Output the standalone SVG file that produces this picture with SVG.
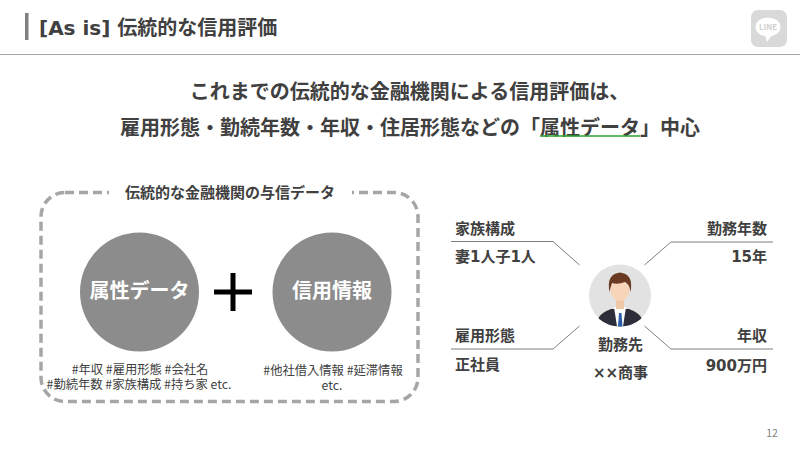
<svg xmlns="http://www.w3.org/2000/svg" width="800" height="450" viewBox="0 0 800 450">
<style>
text{font-family:"Noto Sans CJK JP","Noto Sans",sans-serif;fill:#404040}
.b{font-weight:700}
.lead{font-size:20px;font-weight:700}
.label{font-size:15px;font-weight:700;font-family:"DejaVu Sans","Noto Sans CJK JP",sans-serif}
.tag{font-size:12.300px;font-weight:400}
.circ{fill:#8c8c8c}
.ctext{font-size:20px;font-weight:700;fill:#fff;text-anchor:middle}
.conn{fill:none;stroke:#7f7f7f;stroke-width:1}
.e{text-anchor:end}
.c{text-anchor:middle}
</style>
<rect width="800" height="450" fill="#fff"/>
<g id="header">
<rect x="25" y="13" width="3.500" height="27" fill="#7f7f7f"/>
<text x="39" y="35" font-size="20" font-weight="700" style="font-family:'DejaVu Sans','Noto Sans CJK JP',sans-serif">[As is] 伝統的な信用評価</text>
<line x1="0" y1="54.500" x2="800" y2="54.500" stroke="#a6a6a6" stroke-width="1"/>
<g id="logo">
<rect x="751" y="10" width="36" height="37" rx="7" fill="#d9d9d9"/>
<ellipse cx="768" cy="27" rx="12.500" ry="9.500" fill="#fff"/>
<path d="M765 35 L772 35 L767 42 Z" fill="#fff"/>
<text x="768" y="30" class="c" font-size="8" font-weight="700" style="fill:#cfcfcf">LINE</text>
</g>
</g>
<g id="lead">
<text x="409.500" y="99" class="lead c">これまでの伝統的な金融機関による信用評価は、</text>
<text x="410" y="135" class="lead c">雇用形態・勤続年数・年収・住居形態などの「属性データ」中心</text>
<line x1="540" y1="136" x2="640" y2="136" stroke="#2aa52a" stroke-width="1.500"/>
</g>
<g id="data-box">
<rect x="41" y="192.500" width="377" height="209" rx="24" fill="none" stroke="#a6a6a6" stroke-width="3.500" stroke-dasharray="9 5"/>
<rect x="109" y="180" width="243" height="24" fill="#fff"/>
<text x="230" y="198" class="c b" font-size="15">伝統的な金融機関の与信データ</text>
</g>
<g id="node-attr">
<circle class="circ" cx="139.500" cy="292" r="59.500"/>
<text x="139.500" y="298" class="ctext">属性データ</text>
<text class="tag c"><tspan x="140" y="374">#年収 #雇用形態 #会社名</tspan><tspan x="139" y="389">#勤続年数 #家族構成 #持ち家 etc.</tspan></text>
</g>
<g id="plus">
<rect x="214" y="289.500" width="38" height="5" fill="#000"/>
<rect x="230.500" y="273" width="5" height="38" fill="#000"/>
</g>
<g id="node-credit">
<circle class="circ" cx="332" cy="292" r="59.500"/>
<text x="332" y="298" class="ctext">信用情報</text>
<text class="tag c"><tspan x="333" y="375">#他社借入情報 #延滞情報</tspan><tspan x="332" y="390">etc.</tspan></text>
</g>
<g id="connectors">
<path class="conn" d="M451 241.500H553L579.500 265"/>
<path class="conn" d="M773 242H671L644.500 265"/>
<path class="conn" d="M451 349H553L579.500 326"/>
<path class="conn" d="M773 349H671L644.500 326"/>
</g>
<g id="person">
<circle cx="620" cy="295.500" r="31" fill="#e2e2e2"/>
<path d="M598.500 318.500 Q600 313 611 309 L629 309 Q640 313 641.500 318.500 Q632 326.500 620 326.500 Q608 326.500 598.500 318.500Z" fill="#2b2e38"/>
<path d="M614 307 L626 307 L623 326.500 L617 326.500Z" fill="#fff"/>
<path d="M619 313H621.500L622.500 326.500H618Z" fill="#2a5ca8"/>
<rect x="616" y="298" width="8" height="11" fill="#f0c9a8"/>
<ellipse cx="620" cy="290" rx="9.500" ry="11" fill="#f6d5b8"/>
<path d="M609.500 292 Q606 274 620 272.500 Q634 274 630.500 292 Q629.500 284 625 282 Q618 285 612 283 Q610.500 287 609.500 292Z" fill="#6b3a22"/>
<text x="620.500" y="350" class="label c">勤務先</text>
<text x="620.500" y="378" class="label c">××商事</text>
</g>
<g id="attr-family">
<text x="455" y="234" class="label">家族構成</text>
<text x="455" y="262" class="label">妻1人子1人</text>
</g>
<g id="attr-years">
<text x="767" y="234" class="label e">勤務年数</text>
<text x="767" y="262" class="label e">15年</text>
</g>
<g id="attr-type">
<text x="455" y="341" class="label">雇用形態</text>
<text x="455" y="370" class="label">正社員</text>
</g>
<g id="attr-income">
<text x="767" y="341" class="label e">年収</text>
<text x="767" y="371" class="label e">900万円</text>
</g>
<text x="772" y="437" class="c" font-size="10.500" style="fill:#7f7f7f">12</text>
</svg>
